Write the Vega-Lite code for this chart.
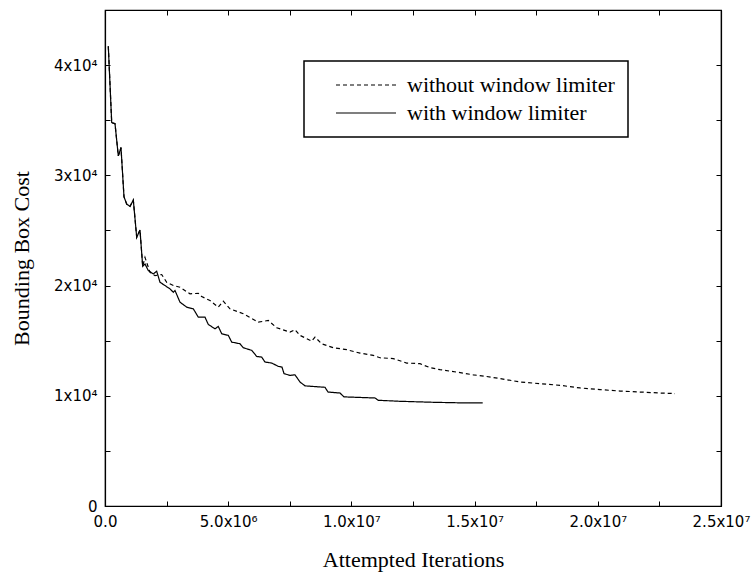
{
  "$schema": "https://vega.github.io/schema/vega-lite/v6.json",
  "autosize": "none",
  "width": 616,
  "height": 496,
  "padding": {"left": 105, "top": 10, "right": 33, "bottom": 69},
  "background": "white",
  "config": {
    "view": {"stroke": "black", "strokeWidth": 1.2},
    "legend": {"strokeWidth": 1.5},
    "axis": {
      "domainColor": "black", "domainWidth": 1.2, "tickColor": "black", "tickWidth": 1,
      "grid": false, "labelColor": "black", "labelFont": "DejaVu Sans", "labelFontSize": 15,
      "titleColor": "black", "titleFont": "Liberation Serif", "titleFontSize": 22, "titleFontWeight": "normal",
      "labelFlush": false, "labelOverlap": false, "tickSize": -5
    }
  },
  "data": {"values": [
    {"it": 134000, "cost": 41720, "s": "with window limiter"},
    {"it": 272000, "cost": 34780, "s": "with window limiter"},
    {"it": 406000, "cost": 34690, "s": "with window limiter"},
    {"it": 540000, "cost": 31760, "s": "with window limiter"},
    {"it": 649000, "cost": 32520, "s": "with window limiter"},
    {"it": 771000, "cost": 28050, "s": "with window limiter"},
    {"it": 881000, "cost": 27390, "s": "with window limiter"},
    {"it": 1015000, "cost": 27180, "s": "with window limiter"},
    {"it": 1149000, "cost": 27760, "s": "with window limiter"},
    {"it": 1287000, "cost": 24370, "s": "with window limiter"},
    {"it": 1420000, "cost": 25040, "s": "with window limiter"},
    {"it": 1530000, "cost": 21750, "s": "with window limiter"},
    {"it": 1623000, "cost": 21960, "s": "with window limiter"},
    {"it": 1757000, "cost": 21360, "s": "with window limiter"},
    {"it": 1960000, "cost": 21060, "s": "with window limiter"},
    {"it": 2098000, "cost": 21300, "s": "with window limiter"},
    {"it": 2232000, "cost": 20300, "s": "with window limiter"},
    {"it": 2435000, "cost": 20000, "s": "with window limiter"},
    {"it": 2638000, "cost": 19700, "s": "with window limiter"},
    {"it": 2772000, "cost": 19390, "s": "with window limiter"},
    {"it": 2841000, "cost": 19550, "s": "with window limiter"},
    {"it": 3044000, "cost": 18490, "s": "with window limiter"},
    {"it": 3316000, "cost": 18040, "s": "with window limiter"},
    {"it": 3584000, "cost": 17890, "s": "with window limiter"},
    {"it": 3787000, "cost": 17130, "s": "with window limiter"},
    {"it": 4058000, "cost": 17130, "s": "with window limiter"},
    {"it": 4192000, "cost": 16470, "s": "with window limiter"},
    {"it": 4464000, "cost": 16080, "s": "with window limiter"},
    {"it": 4598000, "cost": 16290, "s": "with window limiter"},
    {"it": 4736000, "cost": 15630, "s": "with window limiter"},
    {"it": 5004000, "cost": 15480, "s": "with window limiter"},
    {"it": 5142000, "cost": 14870, "s": "with window limiter"},
    {"it": 5479000, "cost": 14720, "s": "with window limiter"},
    {"it": 5613000, "cost": 14360, "s": "with window limiter"},
    {"it": 5954000, "cost": 14120, "s": "with window limiter"},
    {"it": 6157000, "cost": 13570, "s": "with window limiter"},
    {"it": 6360000, "cost": 13510, "s": "with window limiter"},
    {"it": 6493000, "cost": 13060, "s": "with window limiter"},
    {"it": 6765000, "cost": 12970, "s": "with window limiter"},
    {"it": 7033000, "cost": 12670, "s": "with window limiter"},
    {"it": 7183000, "cost": 12600, "s": "with window limiter"},
    {"it": 7265000, "cost": 12010, "s": "with window limiter"},
    {"it": 7508000, "cost": 11850, "s": "with window limiter"},
    {"it": 7711000, "cost": 11900, "s": "with window limiter"},
    {"it": 7914000, "cost": 11250, "s": "with window limiter"},
    {"it": 8117000, "cost": 10900, "s": "with window limiter"},
    {"it": 8726000, "cost": 10800, "s": "with window limiter"},
    {"it": 8929000, "cost": 10770, "s": "with window limiter"},
    {"it": 9050000, "cost": 10340, "s": "with window limiter"},
    {"it": 9537000, "cost": 10250, "s": "with window limiter"},
    {"it": 9700000, "cost": 9900, "s": "with window limiter"},
    {"it": 10958000, "cost": 9800, "s": "with window limiter"},
    {"it": 11092000, "cost": 9590, "s": "with window limiter"},
    {"it": 11972000, "cost": 9500, "s": "with window limiter"},
    {"it": 13312000, "cost": 9410, "s": "with window limiter"},
    {"it": 14407000, "cost": 9360, "s": "with window limiter"},
    {"it": 15329000, "cost": 9350, "s": "with window limiter"},
    {"it": 134000, "cost": 41720, "s": "without window limiter"},
    {"it": 272000, "cost": 34780, "s": "without window limiter"},
    {"it": 406000, "cost": 34690, "s": "without window limiter"},
    {"it": 540000, "cost": 31760, "s": "without window limiter"},
    {"it": 649000, "cost": 32520, "s": "without window limiter"},
    {"it": 771000, "cost": 28050, "s": "without window limiter"},
    {"it": 881000, "cost": 27390, "s": "without window limiter"},
    {"it": 1015000, "cost": 27180, "s": "without window limiter"},
    {"it": 1149000, "cost": 27760, "s": "without window limiter"},
    {"it": 1287000, "cost": 24370, "s": "without window limiter"},
    {"it": 1420000, "cost": 25040, "s": "without window limiter"},
    {"it": 1530000, "cost": 21750, "s": "without window limiter"},
    {"it": 1623000, "cost": 22560, "s": "without window limiter"},
    {"it": 1826000, "cost": 21200, "s": "without window limiter"},
    {"it": 2029000, "cost": 20900, "s": "without window limiter"},
    {"it": 2301000, "cost": 21000, "s": "without window limiter"},
    {"it": 2504000, "cost": 20300, "s": "without window limiter"},
    {"it": 2772000, "cost": 20000, "s": "without window limiter"},
    {"it": 3044000, "cost": 19850, "s": "without window limiter"},
    {"it": 3450000, "cost": 19250, "s": "without window limiter"},
    {"it": 3787000, "cost": 19300, "s": "without window limiter"},
    {"it": 3924000, "cost": 19000, "s": "without window limiter"},
    {"it": 4261000, "cost": 18640, "s": "without window limiter"},
    {"it": 4598000, "cost": 18040, "s": "without window limiter"},
    {"it": 4801000, "cost": 18580, "s": "without window limiter"},
    {"it": 5073000, "cost": 17890, "s": "without window limiter"},
    {"it": 5613000, "cost": 17440, "s": "without window limiter"},
    {"it": 6222000, "cost": 16680, "s": "without window limiter"},
    {"it": 6627000, "cost": 16830, "s": "without window limiter"},
    {"it": 6968000, "cost": 16170, "s": "without window limiter"},
    {"it": 7508000, "cost": 15780, "s": "without window limiter"},
    {"it": 7711000, "cost": 16000, "s": "without window limiter"},
    {"it": 7914000, "cost": 15480, "s": "without window limiter"},
    {"it": 8389000, "cost": 14960, "s": "without window limiter"},
    {"it": 8523000, "cost": 15320, "s": "without window limiter"},
    {"it": 8795000, "cost": 14720, "s": "without window limiter"},
    {"it": 9265000, "cost": 14360, "s": "without window limiter"},
    {"it": 9809000, "cost": 14180, "s": "without window limiter"},
    {"it": 10349000, "cost": 13870, "s": "without window limiter"},
    {"it": 10889000, "cost": 13660, "s": "without window limiter"},
    {"it": 11161000, "cost": 13450, "s": "without window limiter"},
    {"it": 11700000, "cost": 13370, "s": "without window limiter"},
    {"it": 12244000, "cost": 12970, "s": "without window limiter"},
    {"it": 12784000, "cost": 12910, "s": "without window limiter"},
    {"it": 13190000, "cost": 12550, "s": "without window limiter"},
    {"it": 13596000, "cost": 12370, "s": "without window limiter"},
    {"it": 14274000, "cost": 12150, "s": "without window limiter"},
    {"it": 14947000, "cost": 11900, "s": "without window limiter"},
    {"it": 15491000, "cost": 11750, "s": "without window limiter"},
    {"it": 16031000, "cost": 11560, "s": "without window limiter"},
    {"it": 16842000, "cost": 11250, "s": "without window limiter"},
    {"it": 17654000, "cost": 11100, "s": "without window limiter"},
    {"it": 18466000, "cost": 10950, "s": "without window limiter"},
    {"it": 19277000, "cost": 10710, "s": "without window limiter"},
    {"it": 20089000, "cost": 10560, "s": "without window limiter"},
    {"it": 20901000, "cost": 10430, "s": "without window limiter"},
    {"it": 21712000, "cost": 10340, "s": "without window limiter"},
    {"it": 22524000, "cost": 10250, "s": "without window limiter"},
    {"it": 23133000, "cost": 10200, "s": "without window limiter"}
  ]},
  "layer": [
    {
      "mark": {"type": "line", "color": "black", "strokeWidth": 1.2, "opacity": 0},
      "encoding": {
        "x": {"field": "it", "type": "quantitative", "scale": {"domain": [0, 25000000], "nice": false},
          "axis": {"orient": "top", "labels": false, "title": null,
            "values": [0, 2500000, 5000000, 7500000, 10000000, 12500000, 15000000, 17500000, 20000000, 22500000, 25000000]}},
        "y": {"field": "cost", "type": "quantitative", "scale": {"domain": [0, 45000], "nice": false},
          "axis": {"orient": "right", "labels": false, "title": null,
            "values": [0, 5000, 10000, 15000, 20000, 25000, 30000, 35000, 40000, 45000]}},
        "detail": {"field": "s"}
      }
    },
    {
      "mark": {"type": "line", "color": "black", "strokeWidth": 1.2},
      "encoding": {
        "x": {"field": "it", "type": "quantitative", "scale": {"domain": [0, 25000000], "nice": false},
          "axis": {"orient": "bottom", "title": "Attempted Iterations", "labelPadding": 13, "titlePadding": 20,
            "values": [0, 2500000, 5000000, 7500000, 10000000, 12500000, 15000000, 17500000, 20000000, 22500000, 25000000],
            "labelExpr": "datum.value == 0 ? '0.0' : (datum.value % 5000000 != 0 ? '' : (datum.value < 10000000 ? format(datum.value/1000000, '.1f') + 'x10⁶' : format(datum.value/10000000, '.1f') + 'x10⁷'))"}},
        "y": {"field": "cost", "type": "quantitative", "scale": {"domain": [0, 45000], "nice": false},
          "axis": {"orient": "left", "title": "Bounding Box Cost", "labelPadding": 13, "titlePadding": 20,
            "values": [0, 5000, 10000, 15000, 20000, 25000, 30000, 35000, 40000, 45000],
            "labelExpr": "datum.value == 0 ? '0' : (datum.value % 10000 != 0 ? '' : format(datum.value/10000, 'd') + 'x10⁴')"}},
        "strokeDash": {"field": "s", "type": "nominal",
          "scale": {"domain": ["without window limiter", "with window limiter"], "range": [[4, 3], [1, 0]]},
          "legend": {"orient": "none", "legendX": 199, "legendY": 51, "title": " ", "titleOrient": "left", "titlePadding": 8,
            "strokeColor": "black", "padding": 13, "labelFont": "Liberation Serif", "labelFontSize": 22,
            "labelColor": "black", "labelLimit": 0, "labelOffset": 60, "symbolType": "M0,0H10", "symbolSize": 144,
            "symbolStrokeWidth": 1.2, "symbolStrokeColor": "black", "symbolFillColor": "transparent", "rowPadding": 6}}
      }
    }
  ],
  "resolve": {"axis": {"x": "independent", "y": "independent"}}
}
